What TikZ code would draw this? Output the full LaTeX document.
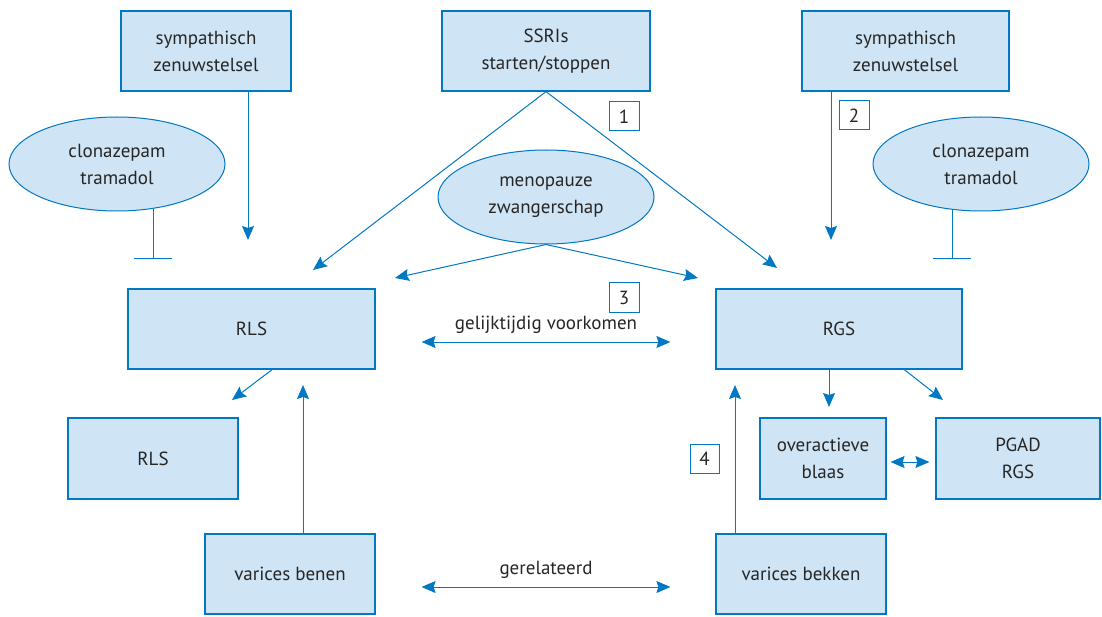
\documentclass[tikz,border=0pt]{standalone}
\usepackage{fontspec}
\setmainfont{PT Sans}
\usepackage{tikz}
\usetikzlibrary{arrows.meta,calc,shapes.geometric}
\definecolor{boxfill}{RGB}{207,228,244}
\definecolor{lineblue}{RGB}{0,120,195}
\definecolor{inkgrey}{RGB}{38,38,38}
\tikzset{
  box/.style={draw=lineblue, line width=1.2pt, fill=boxfill,
              inner sep=0pt, align=center, text=inkgrey,
              font=\fontsize{19}{27}\selectfont},
  oval/.style={ellipse, draw=lineblue, line width=1pt, fill=boxfill,
               minimum width=216pt, minimum height=94pt,
               inner sep=0pt, align=center, text=inkgrey,
               font=\fontsize{19}{27}\selectfont},
  numbox/.style={draw=lineblue, line width=1pt, fill=white,
                 minimum width=30pt, minimum height=29pt,
                 inner sep=0pt, text=inkgrey,
                 font=\fontsize{19}{22}\selectfont},
  lab/.style={text=inkgrey, font=\fontsize{19}{22}\selectfont},
  flow/.style={draw=lineblue, line width=1pt,
               -{Stealth[length=14pt,width=12pt,inset=2pt]}},
  both/.style={draw=lineblue, line width=1pt,
               {Stealth[length=14pt,width=12pt,inset=2pt]}-{Stealth[length=14pt,width=12pt,inset=2pt]}},
  block/.style={draw=lineblue, line width=1pt,
                -{Bar[width=38pt,line width=1pt]}},
}
\begin{document}
\begin{tikzpicture}[x=1pt,y=-1pt]
  \path[use as bounding box] (0,0) rectangle (1102,617);

  % Top row: influences.
  \node[box, minimum width=170pt, minimum height=80pt] (symL) at (206,51)
    {sympathisch\\zenuwstelsel};
  \node[box, minimum width=208pt, minimum height=80pt] (ssri) at (546,51)
    {SSRIs\\starten/stoppen};
  \node[box, minimum width=207pt, minimum height=80pt] (symR) at (905.5,51)
    {sympathisch\\zenuwstelsel};
  \node[oval] (clonL) at (117,164) {clonazepam\\tramadol};
  \node[oval] (meno) at (546,197) {menopauze\\zwangerschap};
  \node[oval] (clonR) at (981,164) {clonazepam\\tramadol};
  \node[numbox] (n1) at (624,116.5) {1};
  \node[numbox] (n2) at (854,115.5) {2};

  % Middle row: the two syndromes.
  \node[box, minimum width=247pt, minimum height=80pt] (rls) at (251.5,329) {RLS};
  \node[box, minimum width=246pt, minimum height=80pt] (rgs) at (839,329) {RGS};
  \node[numbox, minimum height=30pt] (n3) at (624,298) {3};
  \node[lab] (gelijk) at (546,325) {gelijktijdig voorkomen};

  % Lower rows.
  \node[box, minimum width=170pt, minimum height=81pt] (rlsB) at (153,458.5) {RLS};
  \node[box, minimum width=126pt, minimum height=81pt] (overac) at (823,458.5)
    {overactieve\\blaas};
  \node[box, minimum width=164pt, minimum height=81pt] (pgad) at (1018,458.5)
    {PGAD\\RGS};
  \node[numbox, minimum width=29pt] (n4) at (704.5,458.5) {4};
  \node[box, minimum width=170pt, minimum height=80pt] (varB) at (290,574)
    {varices benen};
  \node[box, minimum width=170pt, minimum height=80pt] (varK) at (801,574)
    {varices bekken};
  \node[lab] (gerel) at (546,570) {gerelateerd};

  % Free ends of the connectors.
  \coordinate (endSL) at (248,240);
  \coordinate (endSR) at (831,240);
  \coordinate (barL) at (153,259);
  \coordinate (barR) at (953,259);
  \coordinate (ssriL) at (313,270);
  \coordinate (ssriR) at (777,268);
  \coordinate (menoL) at (395,278);
  \coordinate (menoR) at (698,278);
  \coordinate (upB) at (303,385);
  \coordinate (upK) at (735,385);
  \coordinate (dnRLS) at (232,400);
  \coordinate (dnO) at (829,407);
  \coordinate (dnP) at (943,400);

  \draw[flow] (symL.south -| endSL) -- (endSL);
  \draw[flow] (symR.south -| endSR) -- (endSR);
  \draw[block] (clonL.-51) -- (clonL.-51 |- barL);
  \draw[block] (clonR.-122) -- (clonR.-122 |- barR);
  \draw[flow] (ssri.south) -- (ssriL);
  \draw[flow] (ssri.south) -- (ssriR);
  \draw[flow] (meno.south) -- (menoL);
  \draw[flow] (meno.south) -- (menoR);
  \draw[both, shorten <=46pt, shorten >=45pt]
    ([yshift=-13pt]rls.east) -- ([yshift=-13pt]rgs.west);
  \draw[flow] ($(rls.south west)!0.583!(rls.south east)$) -- (dnRLS);
  \draw[flow] (rgs.south -| dnO) -- (dnO);
  \draw[flow] ($(rgs.south west)!0.764!(rgs.south east)$) -- (dnP);
  \draw[both, shorten <=4pt, shorten >=6pt]
    ([yshift=-3.5pt]overac.east) -- ([yshift=-3.5pt]pgad.west);
  \draw[flow] (varB.north -| upB) -- (upB);
  \draw[flow] (varK.north -| upK) -- (upK);
  \draw[both, shorten <=46pt, shorten >=45pt]
    ([yshift=-13pt]varB.east) -- ([yshift=-13pt]varK.west);
\end{tikzpicture}
\end{document}
